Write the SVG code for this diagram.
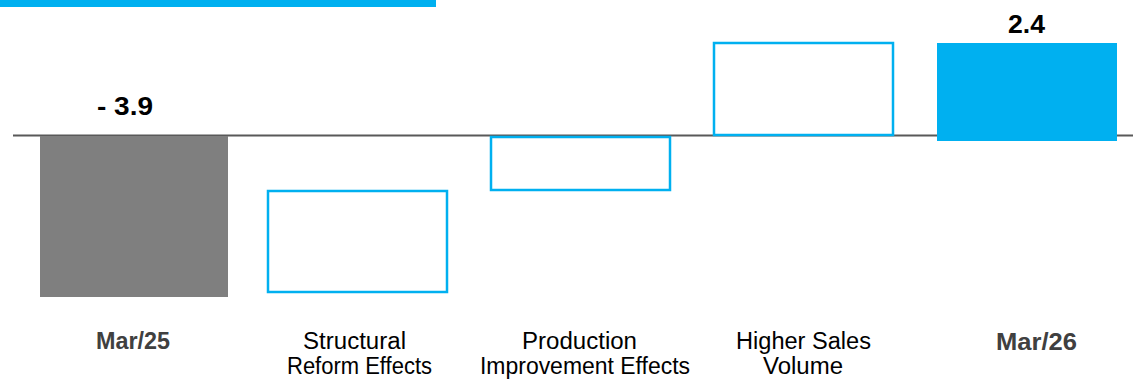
<svg xmlns="http://www.w3.org/2000/svg" width="1133" height="379" viewBox="0 0 1133 379">
  <style>
    .val { font-family: "Liberation Sans", Arial, sans-serif; font-weight: bold; font-size: 25px; fill: #000000; }
    .cat { font-family: "Liberation Sans", Arial, sans-serif; font-size: 23px; fill: #000000; }
    .catb { font-family: "Liberation Sans", Arial, sans-serif; font-weight: bold; font-size: 23px; fill: #404040; }
    .box { fill: #ffffff; stroke: #00b0f0; stroke-width: 2.5; }
  </style>
  <rect x="0" y="0" width="1133" height="379" fill="#ffffff"/>
  <rect id="header-bar" x="0" y="0" width="436" height="7" fill="#00b0f0"/>
  <g id="connectors">
    <line x1="13" y1="135.5" x2="1133" y2="135.5" stroke="#595959" stroke-width="2"/>
  </g>
  <g id="mar25">
    <rect x="40" y="136" width="188" height="161" fill="#7f7f7f"/>
    <text class="val" x="97" y="115" textLength="56" lengthAdjust="spacingAndGlyphs">- 3.9</text>
    <text class="catb" x="96" y="349" textLength="74" lengthAdjust="spacingAndGlyphs">Mar/25</text>
  </g>
  <g id="structural">
    <rect class="box" x="268" y="191" width="179" height="101"/>
    <text class="cat" x="303" y="349" textLength="103" lengthAdjust="spacingAndGlyphs">Structural</text>
    <text class="cat" x="287" y="374" textLength="145" lengthAdjust="spacingAndGlyphs">Reform Effects</text>
  </g>
  <g id="production">
    <rect class="box" x="491" y="137" width="179" height="53"/>
    <text class="cat" x="522" y="349" textLength="115" lengthAdjust="spacingAndGlyphs">Production</text>
    <text class="cat" x="480" y="374" textLength="210" lengthAdjust="spacingAndGlyphs">Improvement Effects</text>
  </g>
  <g id="sales">
    <rect class="box" x="714" y="43" width="179" height="92"/>
    <text class="cat" x="736" y="349" textLength="135" lengthAdjust="spacingAndGlyphs">Higher Sales</text>
    <text class="cat" x="763" y="374" textLength="80" lengthAdjust="spacingAndGlyphs">Volume</text>
  </g>
  <g id="mar26">
    <rect x="937" y="43" width="180" height="98" fill="#00b0f0"/>
    <text class="val" x="1008" y="33" textLength="37" lengthAdjust="spacingAndGlyphs">2.4</text>
    <text class="catb" x="996" y="350" textLength="81" lengthAdjust="spacingAndGlyphs">Mar/26</text>
  </g>
</svg>
